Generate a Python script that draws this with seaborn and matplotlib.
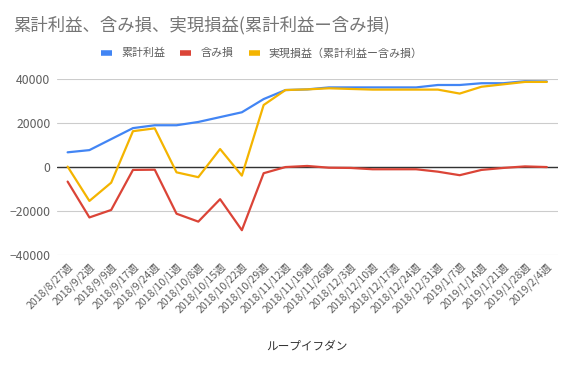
import matplotlib
matplotlib.use("Agg")
import matplotlib.pyplot as plt
import numpy as np
import pandas as pd
import seaborn as sns

""" Data """
weeks = [
    "2018/8/27週", "2018/9/2週", "2018/9/9週", "2018/9/17週", "2018/9/24週",
    "2018/10/1週", "2018/10/8週", "2018/10/15週", "2018/10/22週", "2018/10/29週",
    "2018/11/12週", "2018/11/19週", "2018/11/26週", "2018/12/3週", "2018/12/10週",
    "2018/12/17週", "2018/12/24週", "2018/12/31週", "2019/1/7週", "2019/1/14週",
    "2019/1/21週", "2019/1/28週", "2019/2/4週",
]
cumulative_profit = [
    6800, 7800, 12800, 17800, 19100, 19100, 20600, 22800, 25000, 31000,
    35100, 35400, 36300, 36300, 36300, 36300, 36300, 37400, 37400, 38200,
    38200, 39100, 39000,
]
unrealized_loss = [
    -6500, -22800, -19400, -1200, -1100, -21100, -24700, -14500, -28600, -2700,
    100, 600, -200, -300, -900, -900, -900, -2000, -3600, -1200,
    -300, 400, 100,
]
realized_pl = [
    300, -15300, -7000, 16400, 17700, -2300, -4500, 8300, -3800, 28300,
    35100, 35400, 35900, 35600, 35300, 35300, 35300, 35300, 33500, 36600,
    37700, 38800, 38800,
]
series_names = ["累計利益", "含み損", "実現損益（累計利益ー含み損）"]
series_colors = ["#4285F4", "#DB4437", "#F4B400"]
y_ticks = [-40000, -20000, 0, 20000, 40000]

""" Style """
sns.set_theme(style="white")
plt.rcParams["font.family"] = ["Noto Sans CJK JP", "DejaVu Sans"]
text_gray = "#5f5f5f"

df = pd.DataFrame({"x": np.arange(len(weeks))})
for name, values in zip(series_names, [cumulative_profit, unrealized_loss, realized_pl]):
    df[name] = values
long_df = df.melt(id_vars="x", var_name="series", value_name="value")

fig = plt.figure(figsize=(5.73, 3.67), dpi=100)
ax = fig.add_axes([0.099, 0.3044, 0.8743, 0.4796])

ax.set_yticks(y_ticks)
ax.grid(axis="y", color="#cccccc", linewidth=0.8)
ax.set_axisbelow(True)
ax.axhline(0, color="#333333", linewidth=1, zorder=1)

sns.lineplot(
    data=long_df, x="x", y="value", hue="series",
    hue_order=series_names, palette=series_colors,
    linewidth=1.6, ax=ax, legend=False, zorder=3,
)

ax.set_xlim(-0.5, len(weeks) - 0.5)
ax.set_ylim(-40000, 40000)
ax.set_xticks(np.arange(len(weeks)))
ax.set_xticklabels(weeks, rotation=45, ha="right", rotation_mode="anchor")
ax.tick_params(axis="both", length=0, colors=text_gray)
ax.tick_params(axis="x", pad=4, labelsize=7.6)
ax.tick_params(axis="y", pad=4.5, labelsize=8.8)
for spine in ax.spines.values():
    spine.set_visible(False)
ax.set_ylabel("")
ax.set_xlabel("ループイフダン", fontsize=8.4, color="#333333", labelpad=18)

fig.text(0.023, 0.93, "累計利益、含み損、実現損益(累計利益ー含み損)",
         fontsize=12.5, color="#757575", va="center", ha="left")

handles = [
    plt.Line2D([], [], color=c, linewidth=4, solid_capstyle="butt")
    for c in series_colors
]
fig.legend(
    handles, series_names, loc="center", bbox_to_anchor=(0.457, 0.855),
    ncol=3, frameon=False, fontsize=7.9, handlelength=1.0,
    columnspacing=1.4, handletextpad=0.8, labelcolor=text_gray,
)

fig.savefig("out.png", dpi=100)
